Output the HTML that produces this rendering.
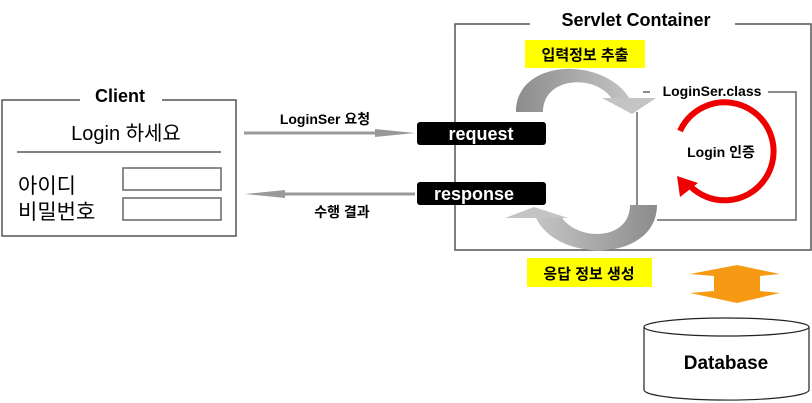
<!DOCTYPE html>
<html><head><meta charset="utf-8"><style>
body{margin:0;background:#fff;width:812px;height:403px;overflow:hidden}
svg{display:block}
text{font-family:"Liberation Sans","Noto Sans CJK KR",sans-serif}
</style></head><body>
<svg width="812" height="403" viewBox="0 0 812 403">
<defs>
<linearGradient id="g1" x1="0" x2="1" y1="0" y2="0"><stop offset="0" stop-color="#8c8c8c"/><stop offset="1" stop-color="#c4c4c4"/></linearGradient>
<linearGradient id="g2" x1="1" x2="0" y1="0" y2="0"><stop offset="0" stop-color="#8c8c8c"/><stop offset="1" stop-color="#c4c4c4"/></linearGradient>
</defs>
<path d="M530 24 H455 V250 H811 V24 H735" fill="none" stroke="#555" stroke-width="1.5"/>
<text x="636" y="26" font-size="18" font-weight="bold" text-anchor="middle">Servlet Container</text>
<!-- gray arcs -->
<path d="M516 112 C516 58 604 56 630 99 L612 99 C596 74 543 76 543 112 Z" fill="url(#g1)"/>
<polygon points="602,98 656,98 632,114" fill="#c4c4c4"/>
<path d="M657 205 C657 262 558 264 536 218 L562 218 C580 242 630 240 630 205 Z" fill="url(#g2)"/>
<polygon points="568,218 505,218 534,207" fill="#c4c4c4"/>
<rect x="525" y="40" width="120" height="28" fill="#ffff00"/>
<text x="585" y="60" font-size="15" font-weight="bold" text-anchor="middle">입력정보 추출</text>
<path d="M643 92 H650 M768 92 H796 V220 H657 M637 112 V205" fill="none" stroke="#666" stroke-width="1.5"/>
<text x="712" y="96" font-size="14" font-weight="bold" text-anchor="middle">LoginSer.class</text>
<path d="M680 131 A49 49 0 1 1 690 186" fill="none" stroke="#ee0000" stroke-width="6"/>
<polygon points="677,176 698,183 680,197" fill="#ee0000"/>
<text x="721" y="157" font-size="14" font-weight="bold" text-anchor="middle">Login 인증</text>
<rect x="417" y="122" width="129" height="23" rx="3" fill="#000"/>
<text x="481" y="140" font-size="18" font-weight="bold" fill="#fff" text-anchor="middle">request</text>
<rect x="417" y="182" width="129" height="23" rx="3" fill="#000"/>
<text x="474" y="200" font-size="18" font-weight="bold" fill="#fff" text-anchor="middle">response</text>
<line x1="244" y1="133" x2="380" y2="133" stroke="#999" stroke-width="3"/>
<polygon points="375,129 415,133 375,137" fill="#999"/>
<line x1="280" y1="194" x2="415" y2="194" stroke="#999" stroke-width="3"/>
<polygon points="285,190 245,194 285,198" fill="#999"/>
<text x="325" y="124" font-size="14" font-weight="bold" text-anchor="middle">LoginSer 요청</text>
<text x="342" y="217" font-size="14" font-weight="bold" text-anchor="middle">수행 결과</text>
<path d="M80 100 H2 V236 H236 V100 H162" fill="none" stroke="#555" stroke-width="1.5"/>
<text x="120" y="102" font-size="18" font-weight="bold" text-anchor="middle">Client</text>
<text x="126" y="140" font-size="20" text-anchor="middle">Login 하세요</text>
<line x1="17" y1="152" x2="221" y2="152" stroke="#000" stroke-width="1"/>
<text x="18" y="193" font-size="21">아이디</text>
<text x="18" y="219" font-size="21">비밀번호</text>
<rect x="123" y="168" width="98" height="22" fill="#fff" stroke="#666" stroke-width="1.5"/>
<rect x="123" y="198" width="98" height="22" fill="#fff" stroke="#666" stroke-width="1.5"/>
<rect x="527" y="258" width="125" height="29" fill="#ffff00"/>
<text x="589" y="279" font-size="15" font-weight="bold" text-anchor="middle">응답 정보 생성</text>
<polygon points="690,274 737,265 780,274 760,276 760,291 780,293 737,303 690,293 714,291 714,276" fill="#f59a12"/>
<path d="M644 327 V390 A82 10 0 0 0 809 390 V327" fill="#fff" stroke="#222" stroke-width="1.2"/>
<ellipse cx="726.5" cy="327" rx="82.5" ry="9" fill="#fff" stroke="#222" stroke-width="1.2"/>
<text x="726" y="369" font-size="19" font-weight="bold" text-anchor="middle">Database</text>
</svg>
</body></html>
